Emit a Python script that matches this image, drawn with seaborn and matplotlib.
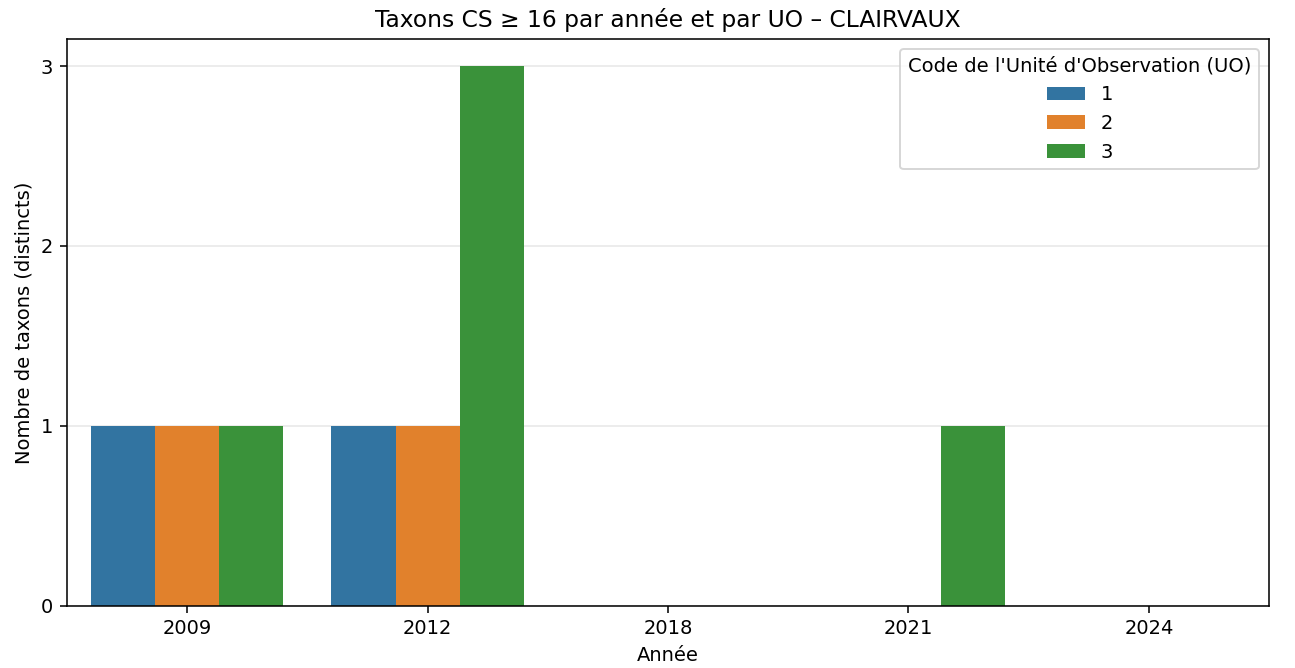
import numpy as np
import pandas as pd
import matplotlib
matplotlib.use("Agg")
import matplotlib.pyplot as plt
import seaborn as sns

years = ["2009", "2012", "2018", "2021", "2024"]
uo_codes = ["1", "2", "3"]
uo1 = [1, 1, 0, 0, 0]
uo2 = [1, 1, 0, 0, 0]
uo3 = [1, 3, 0, 1, 0]

rows = []
for code, vals in zip(uo_codes, [uo1, uo2, uo3]):
    for y, v in zip(years, vals):
        rows.append({"Année": y, "UO": code, "n": v})
df = pd.DataFrame(rows)

DPI = 140
fig, ax = plt.subplots(figsize=(1295 / DPI, 668 / DPI), dpi=DPI)
fig.subplots_adjust(left=0.0517, right=0.98, top=0.9416, bottom=0.093)
sns.barplot(data=df, x="Année", y="n", hue="UO", order=years, hue_order=uo_codes, ax=ax)
ax.set_yticks([0, 1, 2, 3])
ax.grid(axis="y", alpha=0.3)
ax.set_axisbelow(True)
ax.set_title("Taxons CS ≥ 16 par année et par UO – CLAIRVAUX")
ax.set_xlabel("Année")
ax.set_ylabel("Nombre de taxons (distincts)")
ax.legend(title="Code de l'Unité d'Observation (UO)", loc="upper right")
fig.savefig("out.png", dpi=DPI)
